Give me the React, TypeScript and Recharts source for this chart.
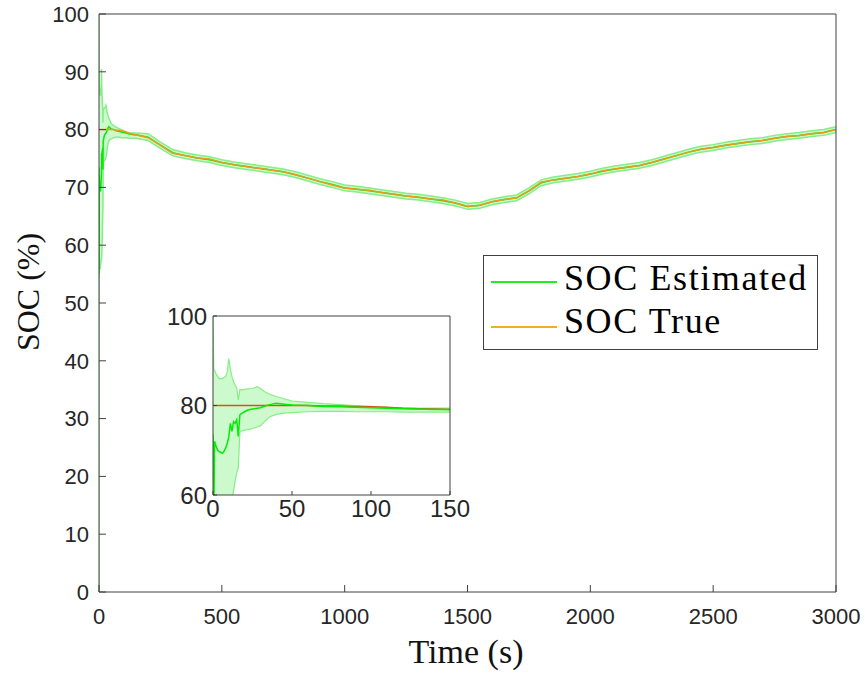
import { ComposedChart, Line, Area, XAxis, YAxis } from "recharts";

// first 150 s, sampled densely (shared by the main plot and the zoom inset)
const EARLY_T = [
  0, 0.5, 1, 2, 3, 4, 5, 6, 7, 8, 9, 10, 11, 12, 13, 14, 15, 16, 17, 18,
  20, 22, 25, 28, 30, 33, 36, 40, 45, 50, 60, 70, 80, 90, 100, 110, 120, 130, 140, 150,
];
const EARLY_EST = [
  73.5, 55, 72, 70.8, 70, 69.7, 69.5, 69.3, 69.8, 70.5, 71.5, 73, 76, 74.2, 76.4, 76, 76.8, 73.1, 77.9, 78.2,
  78.6, 79, 79.2, 79.4, 79.5, 79.9, 80.2, 80.5, 80.3, 80.1, 80, 79.8, 79.7, 79.6, 79.5, 79.4, 79.3, 79.2, 79.1, 79.1,
];
const EARLY_TRUE = [
  80, 80, 80, 80, 80, 80, 80, 80, 80, 80, 80, 80, 80, 80, 80, 80, 80, 80, 80, 80,
  80, 80, 80, 80, 80, 80, 80, 80, 80, 80, 80, 79.9, 79.9, 79.8, 79.7, 79.6, 79.4, 79.3, 79.2, 79.1,
];
const EARLY_LO = [
  0, 53.5, 55, 56, 56, 56, 56, 56.5, 57, 57, 57.5, 57.5, 58, 59, 61, 63, 65, 66, 74, 74.3,
  74.5, 74.6, 74.8, 75.2, 75.5, 76.5, 77.5, 78, 78.3, 78.4, 78.6, 78.7, 78.7, 78.6, 78.6, 78.6, 78.5, 78.5, 78.5, 78.5,
];
const EARLY_HI = [
  100, 88, 87.9, 87, 86.5, 86, 86, 86, 86.3, 86.5, 87.5, 90.5, 88, 86.5, 85.3, 84.5, 84, 81.2, 83.6, 83.5,
  83.6, 83.7, 83.8, 84.2, 83.8, 83, 82.5, 82, 81.5, 81, 80.7, 80.4, 80.2, 80, 79.8, 79.6, 79.5, 79.4, 79.4, 79.4,
];

// rest of the run, every 50 s
const LATE_T = [
  200, 250, 300, 350, 400, 450, 500, 550, 600, 650,
  700, 750, 800, 850, 900, 950, 1000, 1050, 1100, 1150,
  1200, 1250, 1300, 1350, 1400, 1450, 1500, 1550, 1600, 1650,
  1700, 1750, 1800, 1850, 1900, 1950, 2000, 2050, 2100, 2150,
  2200, 2250, 2300, 2350, 2400, 2450, 2500, 2550, 2600, 2650,
  2700, 2750, 2800, 2850, 2900, 2950, 3000,
];
const LATE_TRUE = [
  78.6, 77.3, 75.9, 75.5, 75.1, 74.9, 74.3, 73.9, 73.6, 73.3,
  73.0, 72.7, 72.2, 71.6, 71.0, 70.4, 69.9, 69.7, 69.5, 69.1,
  68.8, 68.5, 68.3, 68.0, 67.8, 67.3, 66.7, 66.9, 67.5, 67.9,
  68.2, 69.4, 70.9, 71.3, 71.6, 71.9, 72.3, 72.9, 73.2, 73.5,
  73.8, 74.3, 74.9, 75.5, 76.1, 76.6, 76.9, 77.3, 77.6, 77.9,
  78.1, 78.5, 78.8, 79.0, 79.3, 79.5, 80.0,
];
const LATE_EST = [
  78.7, 77.3, 76.0, 75.5, 75.1, 74.8, 74.3, 73.9, 73.6, 73.3,
  73.0, 72.7, 72.2, 71.6, 71.0, 70.5, 69.9, 69.7, 69.4, 69.1,
  68.8, 68.5, 68.3, 68.0, 67.7, 67.3, 66.7, 66.9, 67.5, 67.9,
  68.2, 69.4, 70.8, 71.3, 71.6, 71.9, 72.3, 72.8, 73.2, 73.5,
  73.8, 74.3, 74.9, 75.5, 76.1, 76.6, 76.9, 77.3, 77.6, 77.9,
  78.1, 78.5, 78.8, 79.0, 79.3, 79.5, 80.0,
];
const LATE_SPREAD = [
  0.6, 0.55, 0.55, 0.5, 0.5, 0.5, 0.5, 0.5, 0.5, 0.5,
  0.5, 0.5, 0.5, 0.5, 0.5, 0.5, 0.5, 0.5, 0.5, 0.5,
  0.5, 0.5, 0.5, 0.5, 0.5, 0.5, 0.5, 0.5, 0.5, 0.5,
  0.5, 0.5, 0.5, 0.5, 0.5, 0.5, 0.5, 0.5, 0.5, 0.5,
  0.5, 0.5, 0.5, 0.5, 0.5, 0.5, 0.5, 0.5, 0.5, 0.5,
  0.5, 0.5, 0.5, 0.5, 0.5, 0.5, 0.5,
];

const X_TICKS = [0, 500, 1000, 1500, 2000, 2500, 3000];
const Y_TICKS = [0, 10, 20, 30, 40, 50, 60, 70, 80, 90, 100];
const INSET_X_TICKS = [0, 50, 100, 150];
const INSET_Y_TICKS = [60, 80, 100];

const early = EARLY_T.map((t, i) => ({
  t,
  est: EARLY_EST[i],
  truth: EARLY_TRUE[i],
  band: [EARLY_LO[i], EARLY_HI[i]],
}));
const late = LATE_T.map((t, i) => ({
  t,
  est: LATE_EST[i],
  truth: LATE_TRUE[i],
  band: [LATE_EST[i] - LATE_SPREAD[i], LATE_EST[i] + LATE_SPREAD[i]],
}));
const mainData = [...early, ...late];

const AXIS = "#404040";
const TXT = "#262626";
const EST = "#00ee00";
const BAND_FILL = "#c6f9c6";
const BAND_EDGE = "#86ee86";
const TRUE_MAIN = "#e89a22";
const TRUE_INSET = "#d95319";
const sans = "'Liberation Sans', Arial, sans-serif";
const serif = "'Liberation Serif', 'Times New Roman', serif";

export default function App() {
  return (
    <div style={{ position: "absolute", left: 0, top: 0, width: 865, height: 677, background: "#fff" }}>
      {/* plot box: x 99..836, y 14..592 (axis sizes are added to the margins) */}
      <ComposedChart width={865} height={677} data={mainData} margin={{ top: 13, right: 28, bottom: 55, left: 39 }}>
        <XAxis
          dataKey="t" type="number" domain={[0, 3000]} ticks={X_TICKS} interval={0} allowDataOverflow
          height={30} tickSize={-7} tickMargin={23} stroke={AXIS}
          tick={{ fontSize: 22, fill: TXT, fontFamily: sans }}
        />
        <XAxis
          xAxisId="top" orientation="top" dataKey="t" type="number" domain={[0, 3000]} ticks={X_TICKS}
          interval={0} allowDataOverflow height={1} tickSize={-7} tick={false} stroke={AXIS}
        />
        <YAxis
          type="number" domain={[0, 100]} ticks={Y_TICKS} interval={0} allowDataOverflow
          width={60} tickSize={-7} tickMargin={17} stroke={AXIS}
          tick={{ fontSize: 22, fill: TXT, fontFamily: sans }}
        />
        <YAxis
          yAxisId="right" orientation="right" type="number" domain={[0, 100]} ticks={Y_TICKS}
          interval={0} allowDataOverflow width={1} tickSize={-7} tick={false} stroke={AXIS}
        />
        <Area
          dataKey="band" type="linear" fill={BAND_FILL} fillOpacity={0.9} stroke={BAND_EDGE}
          strokeWidth={1.5} isAnimationActive={false}
        />
        <Line dataKey="est" type="linear" stroke={EST} strokeWidth={1.5} dot={false} isAnimationActive={false} />
        <Line dataKey="truth" type="linear" stroke={TRUE_MAIN} strokeWidth={1.5} dot={false} isAnimationActive={false} />
      </ComposedChart>

      {/* inset box: x 213..450, y 316..495 */}
      <div style={{ position: "absolute", left: 150, top: 300 }}>
        <ComposedChart width={320} height={230} data={early} margin={{ top: 15, right: 19, bottom: 5, left: 33 }}>
          <XAxis
            dataKey="t" type="number" domain={[0, 150]} ticks={INSET_X_TICKS} interval={0} allowDataOverflow
            height={30} tickSize={-4} tickMargin={9} stroke={AXIS}
            tick={{ fontSize: 24, fill: TXT, fontFamily: sans }}
          />
          <XAxis
            xAxisId="top" orientation="top" dataKey="t" type="number" domain={[0, 150]} ticks={INSET_X_TICKS}
            interval={0} allowDataOverflow height={1} tickSize={-4} tick={false} stroke={AXIS}
          />
          <YAxis
            type="number" domain={[60, 100]} ticks={INSET_Y_TICKS} interval={0} allowDataOverflow
            width={30} tickSize={-4} tickMargin={10} stroke={AXIS}
            tick={{ fontSize: 24, fill: TXT, fontFamily: sans }}
          />
          <YAxis
            yAxisId="right" orientation="right" type="number" domain={[60, 100]} ticks={INSET_Y_TICKS}
            interval={0} allowDataOverflow width={1} tickSize={-4} tick={false} stroke={AXIS}
          />
          <Area
            dataKey="band" type="linear" fill={BAND_FILL} fillOpacity={0.9} stroke={BAND_EDGE}
            strokeWidth={1.2} isAnimationActive={false}
          />
          <Line dataKey="truth" type="linear" stroke={TRUE_INSET} strokeWidth={1.5} dot={false} isAnimationActive={false} />
          <Line dataKey="est" type="linear" stroke={EST} strokeWidth={1.5} dot={false} isAnimationActive={false} />
        </ComposedChart>
      </div>

      <div
        style={{
          position: "absolute", left: 28, top: 292, transform: "translate(-50%, -50%) rotate(-90deg)",
          fontFamily: serif, fontSize: 32, lineHeight: 1, color: "#111", whiteSpace: "nowrap",
        }}
      >
        SOC (%)
      </div>
      <div
        style={{
          position: "absolute", left: 366, width: 200, top: 635, textAlign: "center",
          fontFamily: serif, fontSize: 34, lineHeight: 1, color: "#111", whiteSpace: "nowrap",
        }}
      >
        Time (s)
      </div>

      <div
        style={{
          position: "absolute", left: 483, top: 255, width: 335, height: 95, boxSizing: "border-box",
          border: `1px solid ${AXIS}`, background: "#fff", fontFamily: serif, fontSize: 36,
          letterSpacing: 1.6, lineHeight: 1, color: "#000",
        }}
      >
        <div style={{ position: "absolute", left: 7, top: 25, width: 66, height: 2, background: "#22ee22" }} />
        <div style={{ position: "absolute", left: 80, top: 4, whiteSpace: "nowrap" }}>SOC Estimated</div>
        <div style={{ position: "absolute", left: 7, top: 70, width: 66, height: 2, background: "#edb120" }} />
        <div style={{ position: "absolute", left: 80, top: 47, whiteSpace: "nowrap" }}>SOC True</div>
      </div>
    </div>
  );
}
